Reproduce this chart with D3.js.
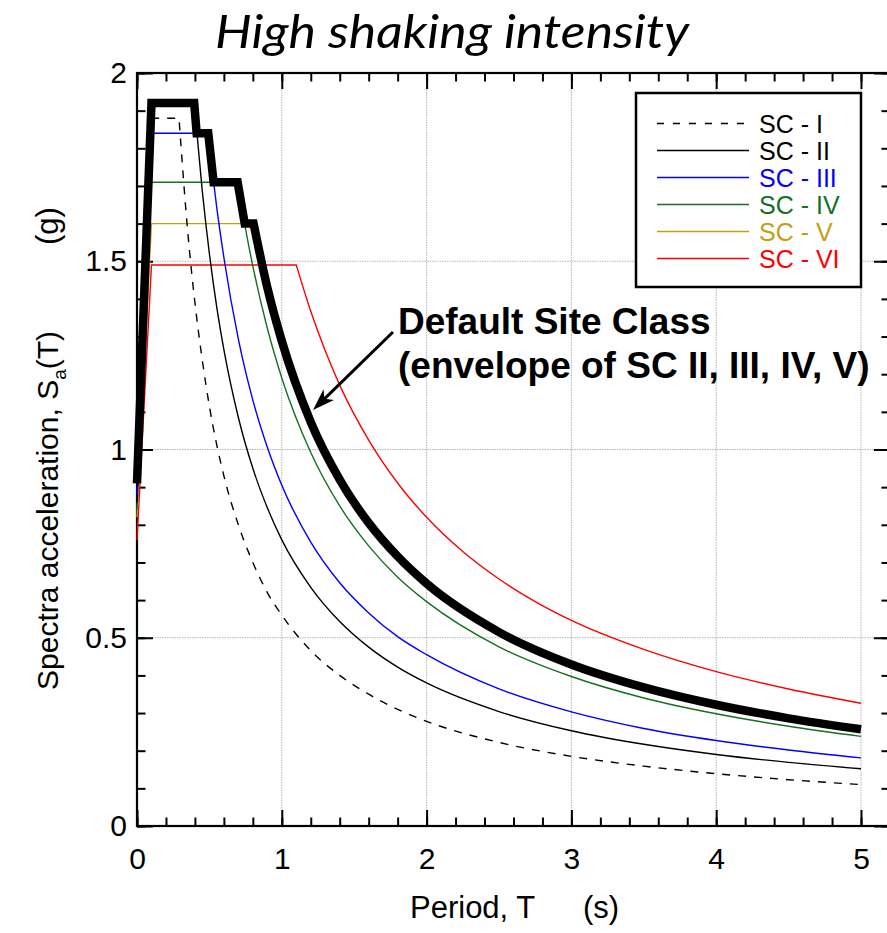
<!DOCTYPE html>
<html>
<head>
<meta charset="utf-8">
<script src="https://cdn.jsdelivr.net/npm/d3@7"></script>
<style>
  html, body { margin: 0; padding: 0; background: #fff; }
  svg { display: block; }
</style>
</head>
<body>
<svg id="chart" width="887" height="933"></svg>
<script>
// Design response spectra, Sa(T) in g, for site classes SC-I … SC-VI
const periodsI   = [0, 0.1, 0.29, 0.35, 0.4, 0.45, 0.5, 0.6, 0.7, 0.8, 0.9, 1.0, 1.2, 1.4, 1.6, 1.8, 2.0, 2.5, 3.0, 3.5, 4.0, 4.5, 5.0];
const saI        = [0.86, 1.88, 1.88, 1.58, 1.39, 1.24, 1.115, 0.93, 0.80, 0.70, 0.62, 0.56, 0.466, 0.40, 0.35, 0.31, 0.278, 0.222, 0.185, 0.159, 0.139, 0.123, 0.11];

const periodsII  = [0, 0.1, 0.395, 0.45, 0.5, 0.55, 0.6, 0.7, 0.8, 0.9, 1.0, 1.2, 1.4, 1.6, 1.8, 2.0, 2.5, 3.0, 3.5, 4.0, 4.5, 5.0];
const saII       = [0.91, 1.92, 1.92, 1.69, 1.52, 1.38, 1.265, 1.085, 0.95, 0.845, 0.76, 0.634, 0.543, 0.475, 0.422, 0.38, 0.304, 0.253, 0.217, 0.19, 0.169, 0.152];

const periodsIII = [0, 0.1, 0.492, 0.55, 0.6, 0.7, 0.8, 0.9, 1.0, 1.2, 1.4, 1.6, 1.8, 2.0, 2.5, 3.0, 3.5, 4.0, 4.5, 5.0];
const saIII      = [0.87, 1.84, 1.84, 1.645, 1.51, 1.293, 1.131, 1.006, 0.905, 0.754, 0.646, 0.566, 0.503, 0.455, 0.364, 0.303, 0.259, 0.227, 0.202, 0.181];

const periodsIV  = [0, 0.1, 0.695, 0.75, 0.8, 0.9, 1.0, 1.2, 1.4, 1.6, 1.8, 2.0, 2.5, 3.0, 3.5, 4.0, 4.5, 5.0];
const saIV       = [0.84, 1.71, 1.71, 1.585, 1.487, 1.322, 1.19, 0.992, 0.85, 0.744, 0.661, 0.596, 0.476, 0.397, 0.34, 0.298, 0.265, 0.238];

const periodsV   = [0, 0.1, 0.805, 0.9, 1.0, 1.2, 1.4, 1.6, 1.8, 2.0, 2.5, 3.0, 3.5, 4.0, 4.5, 5.0];
const saV        = [0.82, 1.60, 1.60, 1.43, 1.288, 1.073, 0.92, 0.805, 0.716, 0.644, 0.515, 0.429, 0.368, 0.322, 0.286, 0.257];

const periodsVI  = [0, 0.1, 1.1, 1.2, 1.3, 1.4, 1.6, 1.8, 2.0, 2.25, 2.5, 2.75, 3.0, 3.5, 4.0, 4.5, 5.0];
const saVI       = [0.76, 1.49, 1.49, 1.367, 1.262, 1.171, 1.025, 0.911, 0.82, 0.729, 0.656, 0.596, 0.546, 0.469, 0.41, 0.364, 0.326];

// Default site class: envelope of SC II, III, IV and V
const periodsDefault = [0, 0.1, 0.395, 0.412, 0.492, 0.529, 0.695, 0.744, 0.805, 0.9, 1.0, 1.2, 1.4, 1.6, 1.8, 2.0, 2.5, 3.0, 3.5, 4.0, 4.5, 5.0];
const saDefault      = [0.91, 1.92, 1.92, 1.84, 1.84, 1.71, 1.71, 1.60, 1.60, 1.43, 1.288, 1.073, 0.92, 0.805, 0.716, 0.644, 0.515, 0.429, 0.368, 0.322, 0.286, 0.257];

const seriesNames  = ["SC - I", "SC - II", "SC - III", "SC - IV", "SC - V", "SC - VI"];
const seriesColors = ["#000000", "#000000", "#0000ff", "#13721f", "#c2a012", "#ff0000"];

const xTicks = [0, 1, 2, 3, 4, 5];
const yTicks = [0, 0.5, 1, 1.5, 2];

const titleText = "High shaking intensity";
const xLabel = ["Period, T", "(s)"];
const yLabel = ["Spectra acceleration, S", "a", "(T)", "(g)"];
const noteLines = ["Default Site Class", "(envelope of SC II, III, IV, V)"];

// ---------------------------------------------------------------
const svg = d3.select("#chart");
const plot = { left: 137, top: 73, bottom: 826 };
const x = d3.scaleLinear().domain([0, 5.2]).range([plot.left, plot.left + 5.2 * 144.8]);
const y = d3.scaleLinear().domain([0, 2]).range([plot.bottom, plot.top]);
const x0 = x(0), x1 = x(5.2), y0 = y(0), y1 = y(2);

const axisFont = "'Liberation Sans', Arial, Helvetica, sans-serif";

// grid
const grid = svg.append("g").attr("stroke", "#b4b4b4").attr("stroke-width", 1).attr("stroke-dasharray", "1.5,1");
grid.selectAll("line.gx").data(xTicks.filter(d => d > 0)).join("line")
  .attr("x1", d => x(d)).attr("x2", d => x(d)).attr("y1", y0).attr("y2", y1);
grid.selectAll("line.gy").data(yTicks.filter(d => d > 0 && d < 2)).join("line")
  .attr("y1", d => y(d)).attr("y2", d => y(d)).attr("x1", x0).attr("x2", x1);

// tick marks (inward) on all four sides
const xMinor = d3.range(0, 5.21, 0.2).map(v => +v.toFixed(1));
const yMinor = d3.range(0, 2.01, 0.1).map(v => +v.toFixed(1));
function tickGroup(axisGen, tx, ty) {
  const g = svg.append("g").attr("transform", `translate(${tx},${ty})`).call(axisGen);
  g.select(".domain").remove();
  g.selectAll(".tick line").attr("stroke", "#000").attr("stroke-width", 2);
  return g;
}
tickGroup(d3.axisBottom(x).tickValues(xMinor).tickSize(-8.5).tickFormat(""), 0, y0);
tickGroup(d3.axisTop(x).tickValues(xMinor).tickSize(-8.5).tickFormat(""), 0, y1);
tickGroup(d3.axisLeft(y).tickValues(yMinor).tickSize(-8.5).tickFormat(""), x0, 0);
tickGroup(d3.axisRight(y).tickValues(yMinor).tickSize(-8.5).tickFormat(""), x1, 0);
tickGroup(d3.axisTop(x).tickValues(xTicks).tickSize(-16).tickFormat(""), 0, y1);
tickGroup(d3.axisRight(y).tickValues(yTicks).tickSize(-16).tickFormat(""), x1, 0);

const xAxis = tickGroup(d3.axisBottom(x).tickValues(xTicks).tickSize(-16).tickPadding(22).tickFormat(d3.format("")), 0, y0);
const yAxis = tickGroup(d3.axisLeft(y).tickValues(yTicks).tickSize(-16).tickPadding(10).tickFormat(d3.format("")), x0, 0);
[xAxis, yAxis].forEach(g => g.selectAll("text")
  .attr("font-family", axisFont).attr("font-size", 30).attr("fill", "#000"));

// frame
svg.append("rect").attr("x", x0).attr("y", y1).attr("width", x1 - x0).attr("height", y0 - y1)
  .attr("fill", "none").attr("stroke", "#000").attr("stroke-width", 2.2);

// curves: linear through ramp and plateau, smooth through the descending branch
function spectrumPath(periods, values) {
  const pts = periods.map((t, i) => [x(t), y(values[i])]);
  let k = 0;
  for (let i = 1; i < values.length; i++) if (values[i] >= values[i - 1]) k = i;
  const head = d3.line().curve(d3.curveLinear)(pts.slice(0, k + 1));
  const tail = d3.line().curve(d3.curveMonotoneX)(pts.slice(k));
  return head + tail.replace(/^M/, "L");
}

const series = [
  { T: periodsI,   sa: saI },
  { T: periodsII,  sa: saII },
  { T: periodsIII, sa: saIII },
  { T: periodsIV,  sa: saIV },
  { T: periodsV,   sa: saV },
  { T: periodsVI,  sa: saVI }
].map((s, i) => ({ ...s, name: seriesNames[i], color: seriesColors[i], dash: i === 0 ? "8,8" : null }));

const curves = svg.append("g").attr("fill", "none");
// draw VI..I so the black curves sit on top of the coloured ones
series.slice().reverse().forEach(s => {
  curves.append("path")
    .attr("d", spectrumPath(s.T, s.sa))
    .attr("stroke", s.color)
    .attr("stroke-width", 1.4)
    .attr("stroke-dasharray", s.dash);
});

// envelope
curves.append("path")
  .attr("d", spectrumPath(periodsDefault, saDefault))
  .attr("stroke", "#000")
  .attr("stroke-width", 8.5)
  .attr("stroke-linejoin", "miter")
  .attr("stroke-linecap", "butt");

// legend
const lg = svg.append("g");
lg.append("rect").attr("x", 636).attr("y", 93).attr("width", 225).attr("height", 194)
  .attr("fill", "#fff").attr("stroke", "#000").attr("stroke-width", 2.5);
series.forEach((s, i) => {
  const ly = 123.5 + i * 27;
  lg.append("line").attr("x1", 657).attr("x2", 749).attr("y1", ly).attr("y2", ly)
    .attr("stroke", s.color).attr("stroke-width", 1.4).attr("stroke-dasharray", s.dash ? "7,9" : null);
  lg.append("text").attr("x", 759).attr("y", ly).attr("dy", "0.36em")
    .attr("font-family", axisFont).attr("font-size", 25).attr("fill", s.color).text(s.name);
});

// annotation
const note = svg.append("g").attr("font-family", axisFont).attr("font-weight", "bold")
  .attr("font-size", 37).attr("fill", "#000");
noteLines.forEach((t, i) => note.append("text").attr("x", 398).attr("y", 334 + i * 44).text(t));

const tip = [313, 410], tail = [393, 332];
const ang = Math.atan2(tail[1] - tip[1], tail[0] - tip[0]);
svg.append("line").attr("x1", tail[0]).attr("y1", tail[1])
  .attr("x2", tip[0] + 12 * Math.cos(ang)).attr("y2", tip[1] + 12 * Math.sin(ang))
  .attr("stroke", "#000").attr("stroke-width", 3);
{
  const L = 22, W = 7.5, back = 16;
  const ux = Math.cos(ang), uy = Math.sin(ang), px = -uy, py = ux;
  const p = [
    tip,
    [tip[0] + L * ux + W * px, tip[1] + L * uy + W * py],
    [tip[0] + back * ux, tip[1] + back * uy],
    [tip[0] + L * ux - W * px, tip[1] + L * uy - W * py]
  ];
  svg.append("path").attr("d", "M" + p.map(q => q.join(",")).join("L") + "Z").attr("fill", "#000");
}

// axis titles
svg.append("text").attr("x", 410).attr("y", 918)
  .attr("font-family", axisFont).attr("font-size", 31).text(xLabel[0]);
svg.append("text").attr("x", 583).attr("y", 918)
  .attr("font-family", axisFont).attr("font-size", 31).text(xLabel[1]);

const yl = svg.append("text").attr("transform", "translate(58,690) rotate(-90)")
  .attr("font-family", axisFont).attr("font-size", 30);
yl.append("tspan").text(yLabel[0]);
yl.append("tspan").attr("font-size", 19).attr("dy", 8).text(yLabel[1]);
yl.append("tspan").attr("dy", -8).text(yLabel[2]);
svg.append("text").attr("transform", "translate(58,245) rotate(-90)")
  .attr("font-family", axisFont).attr("font-size", 31).text(yLabel[3]);

// title
svg.append("text").attr("x", 452).attr("y", 48).attr("text-anchor", "middle")
  .attr("font-family", "Lato, 'Open Sans', sans-serif").attr("font-style", "italic")
  .attr("font-size", 47).attr("textLength", 474).attr("lengthAdjust", "spacingAndGlyphs")
  .text(titleText);
</script>
</body>
</html>
